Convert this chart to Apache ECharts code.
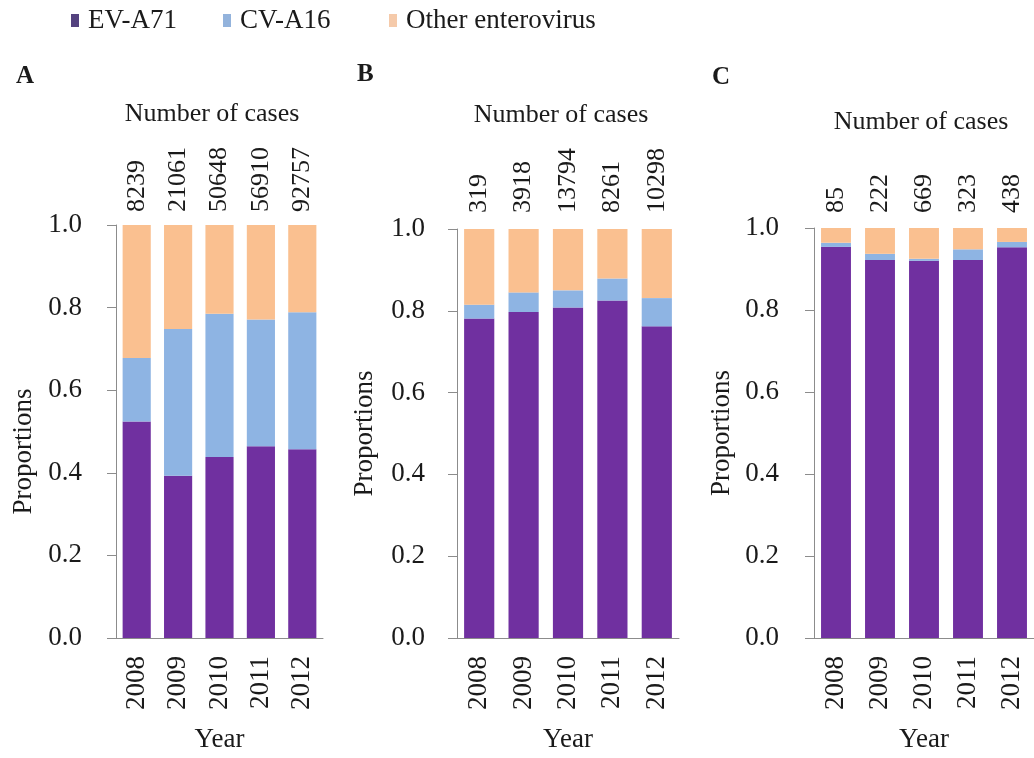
<!DOCTYPE html>
<html>
<head>
<meta charset="utf-8">
<script src="https://cdn.jsdelivr.net/npm/echarts@6/dist/echarts.min.js"></script>
<style>
html,body{margin:0;padding:0;background:#fff;}
#chart{width:1034px;height:758px;}
</style>
</head>
<body>
<div id="chart"></div>
<script>
// ---- data ----
const years = ['2008', '2009', '2010', '2011', '2012'];
const seriesNames = ['EV-A71', 'CV-A16', 'Other enterovirus'];
const yTicks = [0, 0.2, 0.4, 0.6, 0.8, 1.0];

const panelLetters = ['A', 'B', 'C'];

const casesA = [8239, 21061, 50648, 56910, 92757];
const evA = [0.524, 0.393, 0.438, 0.464, 0.457];
const cvA = [0.154, 0.355, 0.347, 0.307, 0.332];
const otherA = [0.322, 0.252, 0.215, 0.229, 0.211];

const casesB = [319, 3918, 13794, 8261, 10298];
const evB = [0.781, 0.797, 0.808, 0.825, 0.762];
const cvB = [0.034, 0.048, 0.042, 0.054, 0.069];
const otherB = [0.185, 0.155, 0.150, 0.121, 0.169];

const casesC = [85, 222, 669, 323, 438];
const evC = [0.954, 0.922, 0.920, 0.922, 0.953];
const cvC = [0.010, 0.015, 0.005, 0.026, 0.013];
const otherC = [0.036, 0.063, 0.075, 0.052, 0.034];

// ---- build ----
const FONT = '"Liberation Serif", "DejaVu Serif", serif';
const colors = ['#7030A0', '#8EB4E3', '#FAC090'];
const legendColors = ['#54427F', '#93B3DC', '#F5CAAA'];
const txt = '#1a1a1a';
const axisCol = '#8c8c8c';

const panels = [
  {ev: evA, cv: cvA, other: otherA, cases: casesA, grid: {left: 116, top: 225, width: 207, height: 413}, labelMargin: 34, title: [207, 96], letter: [11, 59], labelDist: 13},
  {ev: evB, cv: cvB, other: otherB, cases: casesB, grid: {left: 457, top: 229, width: 222, height: 411}, labelMargin: 32, title: [556, 97], letter: [352, 57], labelDist: 16},
  {ev: evC, cv: cvC, other: otherC, cases: casesC, grid: {left: 814, top: 228, width: 225, height: 414}, labelMargin: 35, title: [916, 104], letter: [707, 60], labelDist: 15}
];

const grids = [], xAxes = [], yAxes = [], series = [], titles = [];
panels.forEach((p, i) => {
  grids.push(Object.assign({containLabel: false}, p.grid));
  xAxes.push({
    type: 'category', gridIndex: i, data: years,
    name: 'Year', nameLocation: 'middle', nameGap: 88,
    nameTextStyle: {fontFamily: FONT, fontSize: 27, color: txt},
    axisLine: {lineStyle: {color: axisCol, width: 1}},
    axisTick: {length: 7, lineStyle: {color: axisCol}},
    axisLabel: {rotate: 90, margin: 18, fontFamily: FONT, fontSize: 27, color: txt}
  });
  yAxes.push({
    type: 'value', gridIndex: i, min: 0, max: 1, interval: 0.2,
    name: 'Proportions', nameLocation: 'middle', nameGap: 79,
    nameTextStyle: {fontFamily: FONT, fontSize: 27, color: txt, padding: i === 0 ? [0, 40, 0, 0] : 0},
    axisLine: {show: true, lineStyle: {color: axisCol, width: 1}},
    axisTick: {show: true, length: 9, lineStyle: {color: axisCol}},
    splitLine: {show: false},
    axisLabel: {margin: p.labelMargin, fontFamily: FONT, fontSize: 27, color: txt,
      formatter: v => v.toFixed(1)}
  });
  const vals = [p.ev, p.cv, p.other];
  vals.forEach((d, k) => {
    const s = {
      type: 'bar', name: seriesNames[k], stack: 'p' + i,
      xAxisIndex: i, yAxisIndex: i, data: d,
      barWidth: '68%',
      itemStyle: {color: colors[k]},
      emphasis: {disabled: true}
    };
    if (k === 2) {
      s.label = {
        show: true, position: 'top', distance: p.labelDist, rotate: 90,
        align: 'left', verticalAlign: 'middle',
        fontFamily: FONT, fontSize: 26, color: txt,
        formatter: (prm) => String(p.cases[prm.dataIndex])
      };
    }
    series.push(s);
  });
  titles.push({
    text: 'Number of cases', left: p.title[0], top: p.title[1], textAlign: 'center',
    textStyle: {fontFamily: FONT, fontSize: 26, fontWeight: 'normal', color: txt}
  });
  titles.push({
    text: panelLetters[i], left: p.letter[0], top: p.letter[1],
    textStyle: {fontFamily: FONT, fontSize: 25, fontWeight: 'bold', color: txt}
  });
});

const legendPos = [71, 223, 389];
const legends = seriesNames.map((n, k) => ({
  data: [{name: n, itemStyle: {color: legendColors[k]}}],
  left: legendPos[k], top: 7, padding: 0,
  itemWidth: 8, itemHeight: 13,
  icon: 'rect', selectedMode: false,
  textStyle: {fontFamily: FONT, fontSize: 27, color: txt, padding: [0, 0, 0, 4]}
}));

const chart = echarts.init(document.getElementById('chart'), null, {renderer: 'canvas'});
chart.setOption({
  backgroundColor: '#ffffff',
  animation: false,
  title: titles,
  legend: legends,
  grid: grids,
  xAxis: xAxes,
  yAxis: yAxes,
  series: series
});
</script>
</body>
</html>
